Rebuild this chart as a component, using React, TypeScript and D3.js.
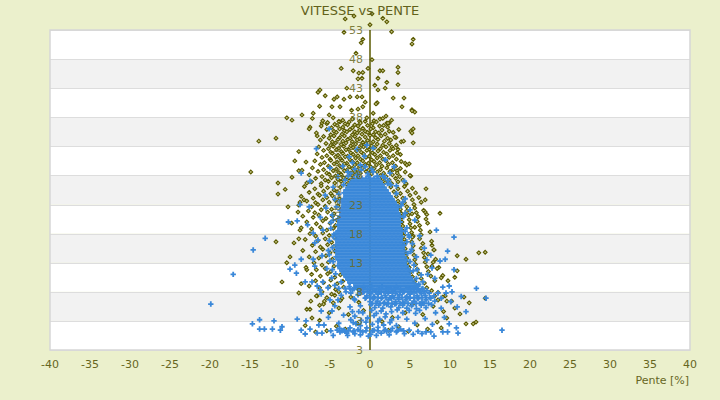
// @ts-nocheck
import React, { useEffect, useRef } from 'react';
import * as d3 from 'd3';

const xTicks = [-40, -35, -30, -25, -20, -15, -10, -5, 0, 5, 10, 15, 20, 25, 30, 35, 40];
const yTicks = [-2, 3, 8, 13, 18, 23, 28, 33, 38, 43, 48, 53];
const yTickLabels = ['3', '3', '8', '13', '18', '23', '28', '33', '38', '43', '48', '53'];

// blue series, solid core: [speed, slopes at that speed]
const blueCore = [
  [27.5, [-2, -1.5, -1, -0.5, 0, 0.5, 1]],
  [27, [-2.25, -1.75, -1.25, -0.75, -0.25, 0.25, 0.75, 1.25]],
  [26.5, [-2.5, -2, -1.5, -1, -0.5, 0, 0.5, 1, 1.5]],
  [26, [-2.75, -2.25, -1.75, -1.25, -0.75, -0.25, 0.25, 0.75, 1.25, 1.75]],
  [25.5, [-3, -2.5, -2, -1.5, -1, -0.5, 0, 0.5, 1, 1.5, 2]],
  [25, [-3.25, -2.75, -2.25, -1.75, -1.25, -0.75, -0.25, 0.25, 0.75, 1.25, 1.75, 2.25]],
  [24.5, [-3, -2.5, -2, -1.5, -1, -0.5, 0, 0.5, 1, 1.5, 2, 2.5]],
  [24, [-3.25, -2.75, -2.25, -1.75, -1.25, -0.75, -0.25, 0.25, 0.75, 1.25, 1.75, 2.25, 2.75]],
  [23.5, [-3.5, -3, -2.5, -2, -1.5, -1, -0.5, 0, 0.5, 1, 1.5, 2, 2.5, 3]],
  [23, [-3.25, -2.75, -2.25, -1.75, -1.25, -0.75, -0.25, 0.25, 0.75, 1.25, 1.75, 2.25, 2.75, 3.25]],
  [22.5, [-3.5, -3, -2.5, -2, -1.5, -1, -0.5, 0, 0.5, 1, 1.5, 2, 2.5, 3, 3.5]],
  [22, [-3.75, -3.25, -2.75, -2.25, -1.75, -1.25, -0.75, -0.25, 0.25, 0.75, 1.25, 1.75, 2.25, 2.75, 3.25]],
  [21.5, [-3.5, -3, -2.5, -2, -1.5, -1, -0.5, 0, 0.5, 1, 1.5, 2, 2.5, 3, 3.5]],
  [21, [-3.75, -3.25, -2.75, -2.25, -1.75, -1.25, -0.75, -0.25, 0.25, 0.75, 1.25, 1.75, 2.25, 2.75, 3.25, 3.75]],
  [20.5, [-4, -3.5, -3, -2.5, -2, -1.5, -1, -0.5, 0, 0.5, 1, 1.5, 2, 2.5, 3, 3.5]],
  [20, [-3.75, -3.25, -2.75, -2.25, -1.75, -1.25, -0.75, -0.25, 0.25, 0.75, 1.25, 1.75, 2.25, 2.75, 3.25, 3.75]],
  [19.5, [-4, -3.5, -3, -2.5, -2, -1.5, -1, -0.5, 0, 0.5, 1, 1.5, 2, 2.5, 3, 3.5]],
  [19, [-3.75, -3.25, -2.75, -2.25, -1.75, -1.25, -0.75, -0.25, 0.25, 0.75, 1.25, 1.75, 2.25, 2.75, 3.25, 3.75]],
  [18.5, [-4, -3.5, -3, -2.5, -2, -1.5, -1, -0.5, 0, 0.5, 1, 1.5, 2, 2.5, 3, 3.5, 4]],
  [18, [-4.25, -3.75, -3.25, -2.75, -2.25, -1.75, -1.25, -0.75, -0.25, 0.25, 0.75, 1.25, 1.75, 2.25, 2.75, 3.25, 3.75]],
  [17.5, [-4, -3.5, -3, -2.5, -2, -1.5, -1, -0.5, 0, 0.5, 1, 1.5, 2, 2.5, 3, 3.5, 4]],
  [17, [-4.25, -3.75, -3.25, -2.75, -2.25, -1.75, -1.25, -0.75, -0.25, 0.25, 0.75, 1.25, 1.75, 2.25, 2.75, 3.25, 3.75]],
  [16.5, [-4, -3.5, -3, -2.5, -2, -1.5, -1, -0.5, 0, 0.5, 1, 1.5, 2, 2.5, 3, 3.5, 4]],
  [16, [-4.25, -3.75, -3.25, -2.75, -2.25, -1.75, -1.25, -0.75, -0.25, 0.25, 0.75, 1.25, 1.75, 2.25, 2.75, 3.25, 3.75, 4.25]],
  [15.5, [-4, -3.5, -3, -2.5, -2, -1.5, -1, -0.5, 0, 0.5, 1, 1.5, 2, 2.5, 3, 3.5, 4]],
  [15, [-4.25, -3.75, -3.25, -2.75, -2.25, -1.75, -1.25, -0.75, -0.25, 0.25, 0.75, 1.25, 1.75, 2.25, 2.75, 3.25, 3.75, 4.25]],
  [14.5, [-4, -3.5, -3, -2.5, -2, -1.5, -1, -0.5, 0, 0.5, 1, 1.5, 2, 2.5, 3, 3.5, 4]],
  [14, [-4.25, -3.75, -3.25, -2.75, -2.25, -1.75, -1.25, -0.75, -0.25, 0.25, 0.75, 1.25, 1.75, 2.25, 2.75, 3.25, 3.75, 4.25]],
  [13.5, [-4, -3.5, -3, -2.5, -2, -1.5, -1, -0.5, 0, 0.5, 1, 1.5, 2, 2.5, 3, 3.5, 4, 4.5]],
  [13, [-3.75, -3.25, -2.75, -2.25, -1.75, -1.25, -0.75, -0.25, 0.25, 0.75, 1.25, 1.75, 2.25, 2.75, 3.25, 3.75, 4.25]],
  [12.5, [-4, -3.5, -3, -2.5, -2, -1.5, -1, -0.5, 0, 0.5, 1, 1.5, 2, 2.5, 3, 3.5, 4, 4.5]],
  [12, [-3.75, -3.25, -2.75, -2.25, -1.75, -1.25, -0.75, -0.25, 0.25, 0.75, 1.25, 1.75, 2.25, 2.75, 3.25, 3.75, 4.25, 4.75]],
  [11.5, [-3.5, -3, -2.5, -2, -1.5, -1, -0.5, 0, 0.5, 1, 1.5, 2, 2.5, 3, 3.5, 4, 4.5, 5]],
  [11, [-3.25, -2.75, -2.25, -1.75, -1.25, -0.75, -0.25, 0.25, 0.75, 1.25, 1.75, 2.25, 2.75, 3.25, 3.75, 4.25, 4.75]],
  [10.5, [-3, -2.5, -2, -1.5, -1, -0.5, 0, 0.5, 1, 1.5, 2, 2.5, 3, 3.5, 4, 4.5, 5]],
  [10, [-2.75, -2.25, -1.75, -1.25, -0.75, -0.25, 0.25, 0.75, 1.25, 1.75, 2.25, 2.75, 3.25, 3.75, 4.25, 4.75, 5.25]],
  [9.5, [-2.5, -2, -1.5, -1, -0.5, 0, 0.5, 1, 1.5, 2, 2.5, 3, 3.5, 4, 4.5, 5, 5.5]],
  [9, [-1.75, -1.25, -0.75, -0.25, 0.25, 0.75, 1.25, 1.75, 2.25, 2.75, 3.25, 3.75, 4.25, 4.75, 5.25, 5.75]],
  [8.5, [-2.5, -2, -1.5, -1, -0.5, 0, 0.5, 1, 1.5, 2, 2.5, 3, 3.5, 4, 4.5, 5, 5.5, 6, 6.5]],
  [8, [-1.25, -0.75, -0.25, 0.25, 0.75, 1.25, 1.75, 2.25, 2.75, 3.25, 3.75, 4.25, 4.75, 5.25, 5.75, 6.25, 6.75]],
  [7, [-0.5, 0, 0.5, 1, 1.5, 2, 2.5, 3, 3.5, 4, 4.5, 5, 5.5, 6, 6.5, 7, 7.5]],
  [6, [0.25, 0.75, 1.25, 1.75, 2.25, 2.75, 3.25, 3.75, 4.25, 4.75, 5.25, 5.75, 6.25, 6.75]],
  [1.3, [-3.5, -2.7, -2, -1.2, -0.5, 0.3, 1, 1.8, 2.6, 3.4, 4.2]],
];

// blue series, scattered points: [slope, speed]
const blueScatter = [
  [-3.1, 8.6], [-2.6, 8.9], [-2.2, 8.4], [-1.7, 8.7], [-1.2, 8.3], [-0.8, 8.8], [-0.3, 8.5], [0.2, 8.9],
  [0.6, 8.2], [1.1, 8.6], [1.5, 8.9], [2, 8.4], [2.4, 8.7], [2.9, 8.3], [3.3, 8.8], [3.8, 8.5], [4.2, 8.1],
  [4.7, 8.7], [5.1, 8.4], [5.6, 8.8], [6.1, 8.3], [6.6, 8.6], [7.1, 8.2],
  [-2.4, 7.8], [-1.5, 7.5], [-0.9, 7.9], [-0.4, 7.3], [0.1, 7.7], [0.5, 7.2], [1, 7.6], [1.4, 7.9],
  [1.9, 7.4], [2.3, 7.8], [2.8, 7.3], [3.2, 7.7], [3.7, 7.5], [4.1, 7.9], [4.6, 7.2], [5, 7.6], [5.5, 7.9],
  [5.9, 7.3], [6.4, 7.7], [6.9, 7.4], [7.4, 7.8], [8, 7.3],
  [-1.9, 6.6], [-0.6, 6.9], [0, 6.3], [0.4, 6.8], [0.9, 6.4], [1.4, 6.9], [1.8, 6.2], [2.3, 6.6], [2.7, 6.9],
  [3.2, 6.3], [3.6, 6.7], [4.1, 6.2], [4.5, 6.6], [5, 6.9], [5.5, 6.4], [6, 6.8], [6.5, 6.2], [7, 6.6],
  [7.6, 6.9], [8.1, 6.4],
  [-1.2, 5.6], [0.1, 5.8], [0.6, 5.3], [1.1, 5.7], [1.6, 5.2], [2.1, 5.8], [2.6, 5.4], [3.1, 5.9], [3.6, 5.3],
  [4.1, 5.7], [4.6, 5.2], [5.2, 5.6], [5.8, 5.1], [6.4, 5.7], [7, 5.3], [7.7, 5.8],
  [-2.2, 4.6], [-0.9, 4.4], [0.2, 4.8], [0.8, 4.3], [1.4, 4.7], [2, 4.2], [2.7, 4.6], [3.4, 4.9], [4.1, 4.4],
  [4.9, 4.8], [5.7, 4.3], [-1.9, 3.8], [-0.3, 3.5], [0.5, 3.9], [1.2, 3.3], [1.9, 3.7], [2.7, 3.2], [3.5, 3.6],
  [-1.1, 3.1], [-2.1, 2.7], [-1.2, 2.2], [-0.5, 2.8], [0.3, 2.4], [1, 2.9], [1.7, 2.3], [2.5, 2.7], [3.3, 2.2],
  [-3.8, 1.7], [-3.1, 1.2], [-2.5, 1.8], [-1.9, 0.8], [-1.5, 1.5], [-0.9, 1.1], [-0.4, 1.8], [0.1, 0.7],
  [0.5, 1.4], [1, 1.9], [1.4, 0.9], [1.9, 1.5], [2.4, 0.6], [2.8, 1.7], [3.3, 1.1], [3.8, 1.6], [4.3, 0.8],
  [4.9, 1.4], [5.4, 0.7], [6, 1.2], [-2.8, 0.5], [-0.2, 0.4], [2.1, 1.2], [0.8, 0.5], [-1.2, 0.6],
  [-4.6, 20.3], [-4.5, 17.9], [-4.7, 15.6], [-4.6, 13.2], [-4.3, 11.1], [-3.6, 9.7], [-4.2, 22.6],
  [-3.9, 24.8], [-3.3, 26.4], [-2.7, 27.9], [3.9, 22.8], [4.2, 20.9], [4.4, 18.4], [4.6, 16.6], [4.7, 14.6],
  [5, 13.2], [5.4, 11.6], [5.8, 10.3], [3.3, 24.9], [2.6, 26.4], [1.9, 27.6], [6.1, 9.3], [-4.9, 18.9],
  [-5.1, 14.4], [-4.4, 23.9], [4.1, 23.4], [4.9, 17.4], [5.2, 15.3], [-2.4, 28.4], [-1.1, 28.9], [0.4, 28.6],
  [-0.6, 29.5], [-1.9, 29.1], [0.9, 27.9], [-3.1, 27.2], [2.3, 27.1], [-1.5, 28.2], [-0.2, 27.9],
  [-19.9, 5.9], [-17.1, 11], [-14.6, 15.2], [-13.1, 17.2], [-14.7, 2.5], [-13.8, 3.2], [-13.8, 1.6],
  [-13.2, 1.6], [-12.2, 1.6], [-12, 3], [-11.2, 1.4], [-11, 2], [-10.2, 20], [-9.1, 20.2], [-8.6, 28.4],
  [-7.5, 27], [-5.1, 36], [-6.7, 32.6], [-5, 29.3], [-8.75, 23], [-7.6, 22.6], [-8.6, 13.6], [-10, 11.9],
  [-9.2, 11.2], [-9.4, 12.6], [-7.1, 13.6], [-6.9, 12.4], [-8.1, 9.7], [-7.25, 9.7], [-5.9, 9.7], [-6.6, 9],
  [-6.25, 8.3], [-6.1, 7.6], [-5.25, 8.7], [-5, 6.6], [-4, 6.6], [-3, 8], [-2.5, 5.4], [-6.1, 4.7],
  [-4.75, 4.7], [-9.1, 3.3], [-8, 3], [-8.6, 1.4], [-8.1, 0.75], [-7.5, 1.6], [-6.6, 0.9], [-6.4, 2.3],
  [-5.75, 2.3], [-6, 0.9], [-4.9, 1.3], [-4.1, 1.4], [-3.75, 1.1], [-3.25, 1.4], [-2.9, 0.9], [-2.1, 1.1],
  [-1.75, 2.5], [-7.1, 18.1], [-6.9, 16.4], [-6.5, 16.9], [-7.8, 19.5], [-6.2, 20.8], [-5.5, 22.4],
  [-5.9, 18.6], [-5.2, 15.1], [-6, 14.2], [-5.4, 12], [-4.8, 10.4], [-4.4, 9.1], [-5.6, 24.6], [-4.6, 26],
  [-4, 27.8], [-3.4, 29.6], [-2.6, 31.2], [-1.6, 32.5], [-0.4, 33.2], [-3.8, 23.5], [-4.9, 19.9],
  [-4.6, 17.5], [-5, 13.3], [-3.6, 7.4], [-4.4, 5.6], [-3.3, 4], [-2.4, 3.2], [-1.4, 4.6], [-2, 6.8],
  [-1.2, 7.9], [-3.9, 2.6], [-5.2, 3.6], [-4.6, 0.5], [-4.7, 21.2], [-5.1, 16.8], [-4.7, 11.8],
  [-3.9, 8.6], [-2.8, 28.6], [-1.2, 29.8], [0.2, 29.1], [-2.2, 30.2], [-0.7, 31.3], [-1.6, 28.1], [-0.3, 28.3],
  [8.3, 18.6], [10.5, 17.4], [9.7, 15], [13.3, 8.6], [14.5, 6.9], [16.5, 1.4], [11, 0.9], [10.8, 1.8],
  [9.7, 1.1], [9.1, 1.1], [8, 0.4], [7.6, 1.1], [7, 1.1], [6.5, 0.8], [9.9, 2.5], [8.9, 6.9], [8.5, 7.8],
  [9.1, 8.8], [9.9, 9], [9.5, 7.8], [10.25, 8], [8.9, 5.2], [10.9, 5.4], [10.5, 11.8], [9.4, 13.6],
  [8.75, 13.3], [7.6, 14.3], [7.1, 13.5], [7.75, 12.1], [6.6, 9.7], [6, 9], [0.4, 32.7], [1.9, 30.7],
  [2.5, 28.4], [3.3, 26.2], [4.4, 24], [5, 22.1], [5.6, 20.3], [4.6, 19], [6.2, 17.6], [5.3, 16.3],
  [6.8, 15.5], [5.8, 14], [7.2, 11], [8.1, 10.3], [4.3, 27], [3, 29.5], [5.9, 11.8], [7.3, 6], [8.2, 4.4],
  [6.9, 3.4], [5.6, 2.6], [4.6, 3.3], [7.8, 2.4], [9.3, 3.6], [6.2, 4.8], [10.1, 6.3], [11.4, 7.2],
  [12, 4.6], [4.4, 21.5], [4.8, 17.8], [5.1, 14.9], [5.5, 12.6], [6.4, 10.9], [1.6, 27.9], [2.2, 26.6],
];

// olive series, outlying points: [slope, speed]
const oliveOuter = [
  [-3.1, 54.9], [-2, 55.4], [0.25, 55.8], [1.6, 55], [2.1, 54.4], [-3.25, 52.6], [0, 53.9], [2.7, 52.7],
  [5.4, 51.4], [5.25, 50.6], [-0.9, 51.4], [-1.1, 50.8], [-1.75, 49], [0.25, 47.9], [-3.6, 46.4],
  [-2.1, 46], [-1.4, 45.6], [-0.9, 45.7], [-0.25, 46.4], [1.25, 46], [1.6, 46], [3.5, 46.6], [3.5, 45.7],
  [-1.5, 44.6], [-1, 44.7], [1, 44.7], [2.1, 44], [3.5, 43.6], [0.6, 43.5], [-6.25, 42.7], [-6.5, 42.3],
  [-5.6, 41.7], [-2.9, 43], [-4.1, 41.5], [-4.5, 41.1], [-3.25, 41.1], [-2.5, 41.5], [-1.6, 41.5],
  [-1, 41.5], [-0.6, 40.6], [1, 42.7], [1.9, 43], [2.9, 41.3], [4.25, 41.3], [4, 39.8], [5.25, 39.3],
  [5.6, 38.9], [-4.75, 39.8], [-3.75, 39.8], [-1.5, 39.4], [-0.9, 39.8], [0.9, 40.5], [-10.4, 37.9],
  [-9.75, 37.5], [-8.5, 38.4], [-7.1, 38.7], [-5.1, 38.4], [-6, 37], [-3.75, 37.2], [-7.5, 36.3],
  [0.4, 38.7], [1.25, 37.7], [2.1, 37], [2.4, 37], [5.4, 36], [-7.6, 36], [-13.9, 33.9], [-11.75, 34.4],
  [-14.9, 28.6], [-11.5, 26.7], [-11.5, 24.8], [-9.4, 30.5], [-8, 30.3], [-8.9, 28.8], [-8.5, 28.9],
  [-9.75, 27.7], [-10.25, 22.6], [-11.75, 16.6], [-11, 9.7], [-10.4, 13], [-8.9, 7.8], [-7.9, 5],
  [-7.5, 5], [-7.25, 3.5], [-10, 14], [-9.5, 16.4], [-8.9, 17.1], [-8.75, 18.6], [-9, 21.7],
  [-8.75, 23.4], [-8.25, 23.8], [-7.9, 26.7], [-8.9, 32.1], [-6.6, 34.8], [-5.4, 36.9], [-2.3, 39.2],
  [0.75, 40.3], [5.25, 39.1], [2, 38.2], [2.25, 37], [5.1, 35.6], [5.25, 35.3], [5.4, 33.6], [3.25, 34.5],
  [3.9, 33.8], [2.75, 32.9], [3.5, 32.5], [4.4, 30.1], [4.9, 30], [3.4, 28.8], [5.1, 27.9], [4.5, 26.5],
  [7, 25.7], [6.9, 23.8], [8.75, 21.5], [6.9, 21.7], [7, 20.5], [6, 20.9], [5.25, 21.4], [5.6, 19.1],
  [5.4, 17.6], [7.75, 16], [8, 15.2], [7.25, 14.5], [7.9, 13.1], [7.75, 12.4], [10.9, 14.2], [12, 13.6],
  [13.6, 14.7], [14.4, 14.8], [10.9, 11.6], [10.6, 10.5], [9.75, 9.9], [11.75, 7.1], [12.4, 6.1],
  [11.25, 4.2], [10.6, 5.2], [9.6, 3.5], [8.9, 1.8], [13.25, 2.8], [12.9, 2.5], [12, 2.5], [14.4, 6.9],
  [10.2, 6.4], [9.2, 4.6], [8.4, 2.8], [7.2, 1.6], [5.9, 2.3], [4.8, 1.2], [3.6, 2], [2.3, 1.4], [6.6, 4.1],
  [7.9, 5.5], [5.3, 5.8], [4.4, 4.4], [2.8, 3.6], [1.5, 2.9], [9.1, 10.8], [8.6, 12.2], [9.4, 7.3],
  [-5.4, 1.3], [-4.2, 2.1], [-3.1, 1.6], [-6.3, 3.1], [-5.1, 4.4], [-3.9, 5.2], [-2.7, 4.1], [-1.6, 2.6],
  [-0.8, 4.8], [-7.4, 6.4], [-6.6, 7.3], [-5.8, 5.9], [-8.1, 2.2], [-6.8, 1.1], [-2.4, 7.1], [-1.4, 6.2],
  [-9.8, 19.8], [-10.6, 25.6], [-6.3, 39.9], [-7.9, 11.8], [-8.6, 9.4],
  [-7.2, 37.8], [-5.9, 37.4], [-4.6, 37.9], [-3.4, 37.5], [-2.2, 37.7], [-1.3, 37.3], [-0.4, 37.9], [0.5, 37.4],
  [1.6, 37.8], [2.7, 37.5],
];

// olive series, dense upper cloud: [slope, speed]
const oliveCloud = [
  [-5.3, 37.1], [-4.4, 36.8], [-3.9, 37.3], [-3.1, 36.9], [-2.6, 37.2], [-1.9, 36.7], [-1.2, 37], [-0.6, 37.3],
  [0.3, 36.9], [0.8, 37.2], [1.7, 36.6], [-6.1, 36.5], [-4.8, 36.2], [-4.1, 36.6], [-3.4, 36.3], [-2.8, 36.7],
  [-2.2, 36.2], [-1.5, 36.5], [-0.9, 36.1], [-0.3, 36.6], [0.4, 36.2], [1.2, 36.5], [2.2, 36.3],
  [-5.4, 35.9], [-4.5, 35.6], [-3.8, 36], [-3.2, 35.7], [-2.5, 35.9], [-1.9, 35.5], [-1.3, 35.8], [-0.6, 35.6],
  [0.1, 36], [0.7, 35.5], [1.5, 35.8], [2.4, 35.6], [3.6, 35.9], [-6.7, 35.3], [-4.9, 35], [-4.2, 35.4],
  [-3.5, 35.1], [-2.9, 35.5], [-2.2, 35], [-1.6, 35.3], [-1, 35.1], [-0.3, 35.4], [0.4, 35], [1.1, 35.3],
  [1.9, 35.1], [2.9, 35.4], [-5.8, 34.7], [-5.1, 34.4], [-4.5, 34.8], [-3.8, 34.5], [-3.2, 34.8], [-2.5, 34.4],
  [-1.9, 34.7], [-1.3, 34.3], [-0.6, 34.6], [0, 34.9], [0.7, 34.5], [1.4, 34.8], [2.2, 34.4], [3.1, 34.6],
  [-6.2, 34.1], [-4.7, 33.8], [-4, 34.2], [-3.4, 33.9], [-2.8, 34.2], [-2.2, 33.8], [-1.6, 34.1], [-0.9, 33.7],
  [-0.3, 34], [0.4, 33.8], [1, 34.2], [1.8, 33.9], [2.6, 34.1], [4.2, 33.9], [-5.5, 33.5], [-4.9, 33.2],
  [-4.3, 33.6], [-3.6, 33.3], [-3, 33.6], [-2.4, 33.1], [-1.8, 33.4], [-1.1, 33.2], [-0.5, 33.5], [0.2, 33.1],
  [0.9, 33.4], [1.6, 33.2], [2.4, 33.5], [3.3, 33.2], [-6.4, 32.9], [-5.2, 32.6], [-4.6, 33], [-3.9, 32.7],
  [-3.3, 33], [-2.7, 32.5], [-2.1, 32.8], [-1.4, 32.6], [-0.8, 32.9], [-0.1, 32.5], [0.6, 32.8], [1.3, 32.6],
  [2, 32.9], [2.9, 32.6], [-5.8, 32.3], [-4.9, 32], [-4.2, 32.4], [-3.6, 32.1], [-3, 32.4], [-2.4, 31.9],
  [-1.7, 32.2], [-1.1, 32], [-0.4, 32.3], [0.3, 31.9], [1, 32.2], [1.7, 32], [2.5, 32.3], [3.4, 31.9],
  [-6.6, 31.7], [-5.4, 31.4], [-4.7, 31.8], [-4, 31.5], [-3.4, 31.8], [-2.8, 31.3], [-2.1, 31.6], [-1.5, 31.4],
  [-0.8, 31.7], [-0.1, 31.3], [0.6, 31.6], [1.3, 31.4], [2.1, 31.7], [2.9, 31.4], [3.8, 31.6],
  [-6, 31.1], [-5, 30.8], [-4.3, 31.2], [-3.7, 30.9], [-3.1, 31.2], [-2.5, 30.7], [-1.8, 31], [-1.2, 30.8],
  [-0.5, 31.1], [0.2, 30.7], [0.9, 31], [1.6, 30.8], [2.4, 31.1], [3.3, 30.8], [-6.9, 30.5], [-5.7, 30.2],
  [-4.9, 30.6], [-4.1, 30.3], [-3.5, 30.6], [-2.9, 30.1], [-2.2, 30.4], [-1.6, 30.2], [-0.9, 30.5], [-0.2, 30.1],
  [0.5, 30.4], [1.2, 30.2], [2, 30.5], [2.8, 30.2], [3.9, 30.4], [-6.2, 29.9], [-5.2, 29.6], [-4.5, 30],
  [-3.8, 29.7], [-3.2, 30], [-2.6, 29.5], [-1.9, 29.8], [-1.3, 29.6], [-0.6, 29.9], [0.1, 29.5], [0.8, 29.8],
  [1.5, 29.6], [2.3, 29.9], [3.2, 29.6], [4.6, 29.8], [-7.2, 29.3], [-5.8, 29], [-5, 29.4], [-4.2, 29.1],
  [-3.5, 29.4], [-2.9, 28.9], [-2.2, 29.2], [-1.6, 29], [-0.9, 29.3], [-0.2, 28.9], [0.5, 29.2], [1.3, 29],
  [2.1, 29.3], [2.9, 29], [3.8, 29.2], [-6.5, 28.7], [-5.4, 28.4], [-4.6, 28.8], [-3.9, 28.5], [-3.2, 28.8],
  [-2.5, 28.3], [-1.9, 28.6], [-1.2, 28.4], [-0.5, 28.7], [0.2, 28.3], [0.9, 28.6], [1.7, 28.4], [2.5, 28.7],
  [3.4, 28.4], [4.4, 28.6], [-7.6, 28.1], [-6, 27.8], [-5.1, 28.2], [-4.3, 27.9], [-3.6, 28.2], [-2.9, 27.7],
  [-2.2, 28], [-1.5, 27.8], [1.3, 28], [2, 27.8], [2.8, 28.1], [3.7, 27.8], [5, 28], [-6.8, 27.5],
  [-5.6, 27.2], [-4.8, 27.6], [-4, 27.3], [-3.3, 27.6], [-2.6, 27.1], [1.6, 27.4], [2.4, 27.2], [3.2, 27.5],
  [4.1, 27.2], [-7.3, 26.9], [-6.1, 26.6], [-5.2, 27], [-4.4, 26.7], [-3.6, 27], [-2.9, 26.5], [1.9, 26.8],
  [2.7, 26.6], [3.5, 26.9], [4.5, 26.6],
];

// olive series, flanks of the blue core: [slope, speed]
const oliveFlanks = [
  [-8.2, 26.1], [-6.9, 25.7], [-6.1, 26.2], [-5.3, 25.9], [-4.5, 25.5], [-3.7, 26], [-7.6, 25.1], [-6.5, 24.8],
  [-5.8, 25.3], [-4.9, 24.9], [-4.1, 25.2], [-8.6, 24.4], [-7.1, 24.1], [-6.3, 24.6], [-5.4, 24.2], [-4.7, 24.5],
  [-3.8, 24], [-7.9, 23.6], [-6.8, 23.3], [-5.9, 23.8], [-5.1, 23.4], [-4.3, 23.7], [-8.9, 22.9], [-7.3, 22.6],
  [-6.5, 23], [-5.6, 22.7], [-4.8, 22.2], [-4, 22.8], [-7.7, 21.9], [-6.9, 21.6], [-6.1, 22.1], [-5.3, 21.7],
  [-4.5, 21.4], [-8.4, 21], [-7.1, 20.8], [-6.4, 21.2], [-5.5, 20.6], [-4.7, 21], [-4.1, 20.3], [-7.9, 20],
  [-6.7, 19.7], [-5.9, 20.2], [-5, 19.8], [-4.3, 19.4], [-8.6, 19], [-7.3, 18.8], [-6.2, 19.1], [-5.4, 18.6],
  [-4.6, 18.9], [-7.5, 18], [-6.8, 17.6], [-5.9, 18.1], [-5.1, 17.7], [-4.4, 17.3], [-8.1, 17], [-6.5, 16.8],
  [-5.6, 17.1], [-4.8, 16.5], [-7.2, 16], [-6.2, 15.7], [-5.3, 16.1], [-4.5, 15.8], [-8.4, 15.1], [-6.8, 14.9],
  [-5.9, 15.3], [-5, 14.7], [-4.4, 15], [-7.6, 14], [-6.4, 13.8], [-5.5, 14.2], [-4.7, 13.6], [-7, 13],
  [-6, 12.6], [-5.2, 13.1], [-4.5, 12.4], [-8, 12.2], [-6.7, 11.8], [-5.6, 12], [-4.9, 11.5], [-7.3, 11],
  [-6.2, 10.7], [-5.3, 11.1], [-4.4, 10.5], [-3.7, 10.9], [-6.8, 9.9], [-5.8, 9.6], [-4.9, 10], [-4.1, 9.4],
  [-3.4, 9.8], [-7.6, 9], [-6.3, 8.7], [-5.1, 8.9], [-4.3, 8.4], [-3.3, 8.8], [-6, 8], [-4.8, 7.6], [-3.9, 8],
  [-6.7, 7.3], [-5.4, 7], [-4.4, 7.4], [-3.5, 6.9], [-5.7, 6.4], [-4.6, 6.1], [-3.7, 6.5], [-6.3, 5.7],
  [2.6, 26], [3.5, 25.7], [4.3, 26.1], [5.3, 25.8], [3, 25.2], [3.8, 24.9], [4.7, 25.3], [5.7, 25],
  [3.3, 24.4], [4.1, 24.1], [5, 24.6], [6.1, 24.2], [3.5, 23.6], [4.3, 23.3], [5.3, 23.8], [6.4, 23.4],
  [3.7, 22.9], [4.6, 22.6], [5.5, 23], [3.8, 22.2], [4.6, 21.9], [5.6, 22.4], [6.7, 22], [3.9, 21.5],
  [4.8, 21.2], [5.8, 21.6], [7.1, 21.3], [4, 20.8], [4.9, 20.4], [6, 20.9], [4, 20], [5, 19.7], [5.9, 20.1],
  [7.2, 19.8], [4.1, 19.3], [5.1, 19], [6.2, 19.4], [4.1, 18.5], [5.2, 18.2], [6.3, 18.6], [7.5, 18.3],
  [4.2, 17.7], [5.3, 17.4], [6.4, 17.8], [4.3, 17], [5.2, 16.6], [6.2, 17.1], [7.7, 16.7], [4.3, 16.2],
  [5.4, 15.9], [6.6, 16.3], [4.4, 15.4], [5.3, 15.1], [6.4, 15.5], [8, 15.2], [4.5, 14.6], [5.5, 14.3],
  [6.7, 14.7], [4.6, 13.8], [5.6, 13.5], [6.8, 13.9], [8.2, 13.6], [4.7, 13], [5.7, 12.7], [6.9, 13.1],
  [4.9, 12.2], [5.9, 11.9], [7.1, 12.3], [8.4, 12], [5.1, 11.4], [6.1, 11.1], [7.3, 11.5], [5.3, 10.6],
  [6.4, 10.3], [7.6, 10.7], [8.9, 10.4], [5.6, 9.8], [6.8, 9.5], [8.1, 9.9], [5.9, 9], [7.1, 8.7], [7.7, 8.2],
  [8.5, 7.9], [8.1, 7.3], [9.1, 7.1], [8.5, 6.6], [9.6, 6.4],
];

const fromRows = rows => rows.flatMap(([v, slopes]) => slopes.map(s => [s, v]));

const Chart = () => {
  const svgRef = useRef(null);

  useEffect(() => {
    if (!svgRef.current) return;

    const width = 720;
    const height = 400;
    const marginTop = 30;
    const marginRight = 30;
    const marginBottom = 50;
    const marginLeft = 50;

    const svg = d3.select(svgRef.current)
      .attr("width", width)
      .attr("height", height)
      .attr("viewBox", [0, 0, width, height])
      .attr("style", "position:absolute; left:0; top:0; font-family: 'DejaVu Sans', sans-serif;");

    svg.selectAll("*").remove();

    const x = d3.scaleLinear().domain([-40, 40]).range([marginLeft, width - marginRight]);
    const y = d3.scaleLinear().domain([-2, 53]).range([height - marginBottom, marginTop]);

    const olive = "#5a5a00";
    const blue = "#3a88d9";

    svg.append("rect")
      .attr("width", width)
      .attr("height", height)
      .attr("fill", "#ebf0cc");

    // alternating bands
    svg.append("g")
      .selectAll("rect")
      .data(d3.pairs(yTicks))
      .join("rect")
      .attr("x", x(-40))
      .attr("width", x(40) - x(-40))
      .attr("y", d => y(d[1]))
      .attr("height", d => y(d[0]) - y(d[1]))
      .attr("fill", (d, i) => (i % 2 === 0 ? "#ffffff" : "#f2f2f2"));

    svg.append("g")
      .attr("stroke", "#dddddd")
      .selectAll("line")
      .data(yTicks)
      .join("line")
      .attr("x1", x(-40))
      .attr("x2", x(40))
      .attr("y1", d => Math.round(y(d)) + 0.5)
      .attr("y2", d => Math.round(y(d)) + 0.5);

    svg.append("rect")
      .attr("x", x(-40))
      .attr("y", y(53))
      .attr("width", x(40) - x(-40))
      .attr("height", y(-2) - y(53))
      .attr("fill", "none")
      .attr("stroke", "#d6d6d6")
      .attr("stroke-width", 1.5);

    // x axis labels
    svg.append("g")
      .attr("fill", "#66661e")
      .attr("font-size", 11)
      .attr("text-anchor", "middle")
      .selectAll("text")
      .data(xTicks)
      .join("text")
      .attr("x", d => x(d))
      .attr("y", 368)
      .text(d => d);

    svg.append("text")
      .attr("x", x(40) - 1)
      .attr("y", 384)
      .attr("text-anchor", "end")
      .attr("font-size", 11)
      .attr("fill", "#66661e")
      .text("Pente [%]");

    svg.append("line")
      .attr("x1", x(0))
      .attr("x2", x(0))
      .attr("y1", y(53))
      .attr("y2", y(-2))
      .attr("stroke", olive)
      .attr("stroke-width", 1.5);

    // olive series (diamonds)
    svg.append("g")
      .attr("fill", "#c9c98c")
      .attr("stroke", olive)
      .attr("stroke-width", 1.1)
      .selectAll("path")
      .data([...oliveOuter, ...oliveCloud, ...oliveFlanks])
      .join("path")
      .attr("transform", d => `translate(${x(d[0])},${y(d[1])})`)
      .attr("d", "M0,-1.9L1.9,0L0,1.9L-1.9,0Z");

    // blue series (crosses)
    svg.append("g")
      .attr("fill", "none")
      .attr("stroke", blue)
      .attr("stroke-width", 1.8)
      .selectAll("path")
      .data([...fromRows(blueCore), ...blueScatter])
      .join("path")
      .attr("transform", d => `translate(${x(d[0])},${y(d[1])})`)
      .attr("d", "M-2.7,0H2.7M0,-2.7V2.7");

    // y axis labels, drawn over the points
    svg.append("g")
      .attr("fill", "#6a6a22")
      .attr("fill-opacity", 0.85)
      .attr("font-size", 11)
      .attr("text-anchor", "end")
      .selectAll("text")
      .data(yTicks)
      .join("text")
      .attr("x", x(0) - 7)
      .attr("y", d => y(d))
      .attr("dy", "0.36em")
      .text((d, i) => yTickLabels[i]);

    svg.append("text")
      .attr("transform", `translate(${x(0) - 29},${y(27)}) rotate(-90)`)
      .attr("text-anchor", "middle")
      .attr("font-size", 11)
      .attr("fill", "#6a6a22")
      .attr("fill-opacity", 0.8)
      .text("Vitesse [km/h]");

    svg.append("text")
      .attr("x", width / 2)
      .attr("y", 15)
      .attr("text-anchor", "middle")
      .attr("font-size", 13)
      .attr("fill", "#62621a")
      .text("VITESSE vs PENTE");
  }, []);

  return <svg ref={svgRef}></svg>;
};

export default function App() {
  return <Chart />;
}
